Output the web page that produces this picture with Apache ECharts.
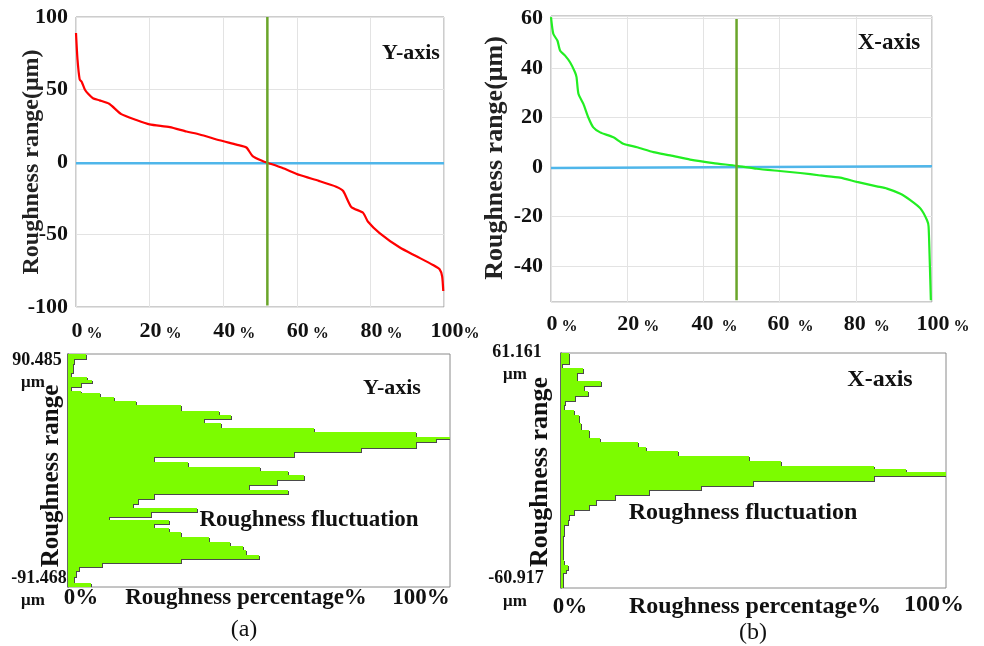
<!DOCTYPE html>
<html>
<head>
<meta charset="utf-8">
<script src="https://cdn.jsdelivr.net/npm/echarts@6/dist/echarts.min.js"></script>
<style>
html,body{margin:0;padding:0;background:#fff;}
#chart{width:984px;height:646px;}
</style>
</head>
<body>
<div id="chart"></div>
<script>
// ---------- Data ----------
// (a) Y-axis roughness, sorted profile
const yProfilePct = [0, 0.4, 1.0, 1.6, 2.4, 3.3, 4.6, 6.4, 9.1, 12.3, 16.4, 20, 25.5, 30, 33.6, 39, 43.6, 46.3, 48, 50.8, 52.2, 56, 60.8, 66, 70.7, 72.6, 74.8, 78, 79.3, 82.5, 88, 92.5, 97, 98.8, 99.5, 99.8];
const yProfileVal = [89, 71, 57, 55, 50, 47, 44, 42.5, 40, 33, 29, 26, 24, 21, 19, 15, 12, 10, 4, 0.5, -0.7, -4, -9, -13, -17, -20, -31, -35, -41, -49, -59, -65, -71, -74, -79, -89];
const yMeanPct = [0, 100];
const yMeanVal = [-0.9, -0.9];
const yMedianPct = [52, 52];
const yMedianVal = [100, -99];

// (b) X-axis roughness, sorted profile
const xProfilePct = [0, 0.6, 1.7, 2.4, 3.7, 5.0, 6.3, 6.7, 7.2, 8.5, 9.8, 11.1, 12.9, 16.4, 19, 22.6, 26.9, 31.3, 36.5, 42.6, 48.7, 54, 60, 65.4, 70.7, 75.9, 80.3, 85.5, 88.2, 91.7, 94.3, 97, 98.7, 99.1, 99.4, 99.7];
const xProfileVal = [60.5, 53.8, 51, 47, 45, 42.3, 38.3, 36.3, 29.6, 25.5, 20, 16, 14, 12, 9.4, 8, 6, 4.7, 3, 1.6, 0.5, -0.7, -1.6, -2.4, -3.4, -4.3, -6, -7.8, -8.7, -10.8, -13.4, -16.8, -21.5, -24, -37.6, -53.8];
const xMeanPct = [0, 100];
const xMeanVal = [-0.4, 0.3];
const xMedianPct = [48.7, 48.7];
const xMedianVal = [59.8, -53.8];

// (a) histogram: bin edges (µm, top to bottom) and percentage widths
const histAEdges = [90.485, 86.31, 82.66, 75.89, 72.76, 70.15, 67.55, 64.94, 61.81, 59.72, 56.60, 53.73, 50.60, 46.17, 42.78, 39.39, 36.26, 32.35, 29.22, 25.31, 23.75, 21.92, 16.71, 14.10, 9.67, 6.28, 2.37, -0.75, -4.14, -8.05, -11.96, -15.87, -18.48, -22.39, -26.30, -29.43, -32.82, -36.73, -39.33, -42.46, -45.07, -48.46, -52.37, -56.28, -59.67, -62.28, -66.71, -69.31, -72.70, -75.83, -78.96, -83.65, -88.34, -91.468];
const histAPct = [4.6, 1.7, 1.3, 0.7, 5.0, 6.2, 3.5, 0.9, 3.3, 8.3, 12.1, 17.7, 29.5, 39.6, 42.6, 35.6, 40.0, 64.5, 91.1, 100, 96.3, 91.1, 76.7, 59.2, 22.5, 31.3, 50.2, 57.6, 61.8, 54.8, 47.4, 57.5, 22.5, 18.2, 16.9, 33.9, 21.7, 10.7, 26.5, 22.5, 26.5, 29.5, 36.9, 42.4, 45.7, 46.7, 50.0, 29.5, 9.0, 2.9, 2.0, 1.6, 5.9];

// (b) histogram
const histBEdges = [61.161, 55.62, 53.37, 50.77, 46.44, 44.19, 41.25, 38.65, 36.05, 34.32, 31.72, 29.13, 24.80, 21.33, 17.00, 14.75, 12.33, 10.08, 7.48, 4.88, 2.29, 0.90, -0.48, -2.56, -5.51, -7.76, -10.18, -12.43, -15.03, -17.63, -20.23, -22.82, -25.42, -28.02, -34.08, -46.20, -48.80, -51.39, -53.13, -60.917];
const histBPct = [2.2, 0.3, 5.6, 4.1, 10.4, 6.1, 6.9, 3.6, 1.1, 0.9, 3.5, 4.8, 5.2, 7.4, 10.0, 19.9, 22.1, 30.3, 48.9, 57.1, 81.4, 89.6, 100, 81.4, 49.8, 36.4, 22.9, 13.9, 9.1, 7.4, 3.5, 2.2, 1.7, 0.9, 0.6, 0.9, 1.7, 1.3, 0.5];

// ---------- Helpers ----------
const SERIF = '"Liberation Serif","Times New Roman",serif';
const zip = (a, b) => a.map((v, i) => [v, b[i]]);
const histData = (edges, pct) => pct.map((p, i) => [edges[i + 1], edges[i], p]);

function histRender(fill, off) {
  return function (params, api) {
    const lo = api.value(0), hi = api.value(1), w = api.value(2);
    const p0 = api.coord([0, hi]);
    const p1 = api.coord([w, lo]);
    const x = Math.round(p0[0]), y = Math.round(p0[1]);
    const x2 = Math.round(p1[0]), y2 = Math.round(p1[1]);
    return {
      type: 'rect',
      shape: {x: x + off, y: y + off, width: Math.max(0, x2 - x), height: y2 - y},
      style: {fill: fill, stroke: null}
    };
  };
}

function pctLabel(v, sep) {
  return '{n|' + v + '}{p|' + sep + '%}';
}

const tickLabelStyle = {color: '#111', fontFamily: SERIF, fontWeight: 'bold', fontSize: 22};

function topXAxis(gridIndex, sepFn, margin) {
  return {
    type: 'value', gridIndex: gridIndex, min: 0, max: 100, interval: 20,
    axisLine: {show: false}, axisTick: {show: false},
    splitLine: {show: true, lineStyle: {color: '#e3e3e3', width: 1}},
    axisLabel: {
      margin: margin,
      padding: [0, 0, 0, 22],
      formatter: v => pctLabel(v, sepFn(v)),
      rich: {
        n: {fontFamily: SERIF, fontWeight: 'bold', fontSize: 22, color: '#111'},
        p: {fontFamily: SERIF, fontWeight: 'bold', fontSize: 16, color: '#111', verticalAlign: 'bottom'}
      }
    }
  };
}

function histXAxis(gridIndex) {
  return {type: 'value', gridIndex: gridIndex, min: 0, max: 100, show: true,
    axisLine: {show: false}, axisTick: {show: false}, axisLabel: {show: false}, splitLine: {show: false}};
}
function histYAxis(gridIndex, min, max) {
  return {type: 'value', gridIndex: gridIndex, min: min, max: max,
    axisLine: {show: true, lineStyle: {color: '#444', width: 1.5}}, axisTick: {show: false},
    axisLabel: {show: false}, splitLine: {show: false}};
}

function txt(text, x, y, size, opts) {
  opts = opts || {};
  return {
    type: 'text', x: x, y: y, rotation: opts.rotation || 0, z: 100,
    style: {
      text: text, fill: opts.color || '#111',
      font: (opts.normal ? 'normal ' : 'bold ') + size + 'px ' + SERIF,
      textAlign: 'center', textVerticalAlign: 'middle',
      align: 'center', verticalAlign: 'middle'
    }
  };
}

const chart = echarts.init(document.getElementById('chart'), null, {renderer: 'canvas'});

const option = {
  backgroundColor: '#fff',
  animation: false,
  grid: [
    {left: 76, top: 17, width: 368, height: 290, show: true, borderColor: '#9a9a9a', borderWidth: 1, backgroundColor: 'transparent'},
    {left: 551, top: 16, width: 381, height: 286, show: true, borderColor: '#9a9a9a', borderWidth: 1, backgroundColor: 'transparent'},
    {left: 68, top: 354, width: 382, height: 233, show: true, borderColor: '#8a8a8a', borderWidth: 1, backgroundColor: 'transparent'},
    {left: 561, top: 353, width: 385, height: 235, show: true, borderColor: '#8a8a8a', borderWidth: 1, backgroundColor: 'transparent'}
  ],
  xAxis: [
    topXAxis(0, v => (v === 100 ? '' : ' '), 13),
    topXAxis(1, v => (v === 40 || v === 60 || v === 80) ? '  ' : ' ', 11),
    histXAxis(2),
    histXAxis(3)
  ],
  yAxis: [
    {
      type: 'value', gridIndex: 0, min: -100, max: 100, interval: 50,
      axisLine: {show: false}, axisTick: {show: false},
      splitLine: {show: true, lineStyle: {color: '#e3e3e3'}},
      axisLabel: Object.assign({margin: 8}, tickLabelStyle)
    },
    {
      type: 'value', gridIndex: 1, min: -54.5, max: 61,
      axisLine: {show: false}, axisTick: {show: false},
      splitLine: {show: true, lineStyle: {color: '#e3e3e3'}},
      axisLabel: Object.assign({margin: 8, formatter: v => (Math.abs(v % 20) < 1e-9 ? String(v) : '')}, tickLabelStyle)
    },
    histYAxis(2, -91.468, 90.485),
    histYAxis(3, -60.917, 61.161)
  ],
  series: [
    {type: 'line', xAxisIndex: 0, yAxisIndex: 0, data: zip(yMeanPct, yMeanVal), showSymbol: false, lineStyle: {color: '#4fb6ea', width: 2.5}, z: 2},
    {type: 'line', xAxisIndex: 0, yAxisIndex: 0, data: zip(yProfilePct, yProfileVal), showSymbol: false, smooth: 0.2, lineStyle: {color: '#ff0000', width: 2.2}, z: 3},
    {type: 'line', xAxisIndex: 0, yAxisIndex: 0, data: zip(yMedianPct, yMedianVal), showSymbol: false, lineStyle: {color: '#6aa52a', width: 2.5}, z: 4},

    {type: 'line', xAxisIndex: 1, yAxisIndex: 1, data: zip(xMeanPct, xMeanVal), showSymbol: false, lineStyle: {color: '#4fb6ea', width: 2.5}, z: 2},
    {type: 'line', xAxisIndex: 1, yAxisIndex: 1, data: zip(xProfilePct, xProfileVal), showSymbol: false, smooth: 0.2, lineStyle: {color: '#22ee22', width: 2.2}, z: 3},
    {type: 'line', xAxisIndex: 1, yAxisIndex: 1, data: zip(xMedianPct, xMedianVal), showSymbol: false, lineStyle: {color: '#6aa52a', width: 2.5}, z: 4},

    {type: 'custom', xAxisIndex: 2, yAxisIndex: 2, renderItem: histRender('#4a4a4a', 1), clip: true, z: 2,
     dimensions: ['lo', 'hi', 'pct'], encode: {x: 2, y: [0, 1]}, data: histData(histAEdges, histAPct)},
    {type: 'custom', xAxisIndex: 2, yAxisIndex: 2, renderItem: histRender('#7cfc00', 0), clip: true, z: 3,
     dimensions: ['lo', 'hi', 'pct'], encode: {x: 2, y: [0, 1]}, data: histData(histAEdges, histAPct)},
    {type: 'custom', xAxisIndex: 3, yAxisIndex: 3, renderItem: histRender('#4a4a4a', 1), clip: true, z: 2,
     dimensions: ['lo', 'hi', 'pct'], encode: {x: 2, y: [0, 1]}, data: histData(histBEdges, histBPct)},
    {type: 'custom', xAxisIndex: 3, yAxisIndex: 3, renderItem: histRender('#7cfc00', 0), clip: true, z: 3,
     dimensions: ['lo', 'hi', 'pct'], encode: {x: 2, y: [0, 1]}, data: histData(histBEdges, histBPct)}
  ],
  graphic: [
    txt('Roughness range(μm)', 32, 162, 24, {rotation: Math.PI / 2, color: '#222'}),
    txt('Roughness range(μm)', 495, 158, 26, {rotation: Math.PI / 2, color: '#222'}),
    txt('Y-axis', 411, 53, 22),
    txt('X-axis', 889, 43, 23),

    txt('90.485', 37, 360, 18),
    txt('μm', 33, 383, 17),
    txt('-91.468', 39, 578, 18),
    txt('μm', 33, 601, 17),
    txt('Roughness range', 52, 476, 25, {rotation: Math.PI / 2}),
    txt('0%', 81, 598, 23),
    txt('Roughness percentage%', 246, 598, 23),
    txt('100%', 421, 598, 23),
    txt('Y-axis', 392, 388, 22),
    txt('Roughness fluctuation', 309, 520, 23),
    txt('(a)', 244, 630, 24, {normal: true}),

    txt('61.161', 517, 352, 18),
    txt('μm', 515, 375, 17),
    txt('-60.917', 516, 578, 18),
    txt('μm', 515, 602, 17),
    txt('Roughness range', 540, 472, 26, {rotation: Math.PI / 2}),
    txt('0%', 570, 607, 23),
    txt('Roughness percentage%', 755, 607, 24),
    txt('100%', 934, 605, 24),
    txt('X-axis', 880, 380, 24),
    txt('Roughness fluctuation', 743, 513, 24),
    txt('(b)', 753, 633, 24, {normal: true})
  ]
};
chart.setOption(option);
</script>
</body>
</html>
